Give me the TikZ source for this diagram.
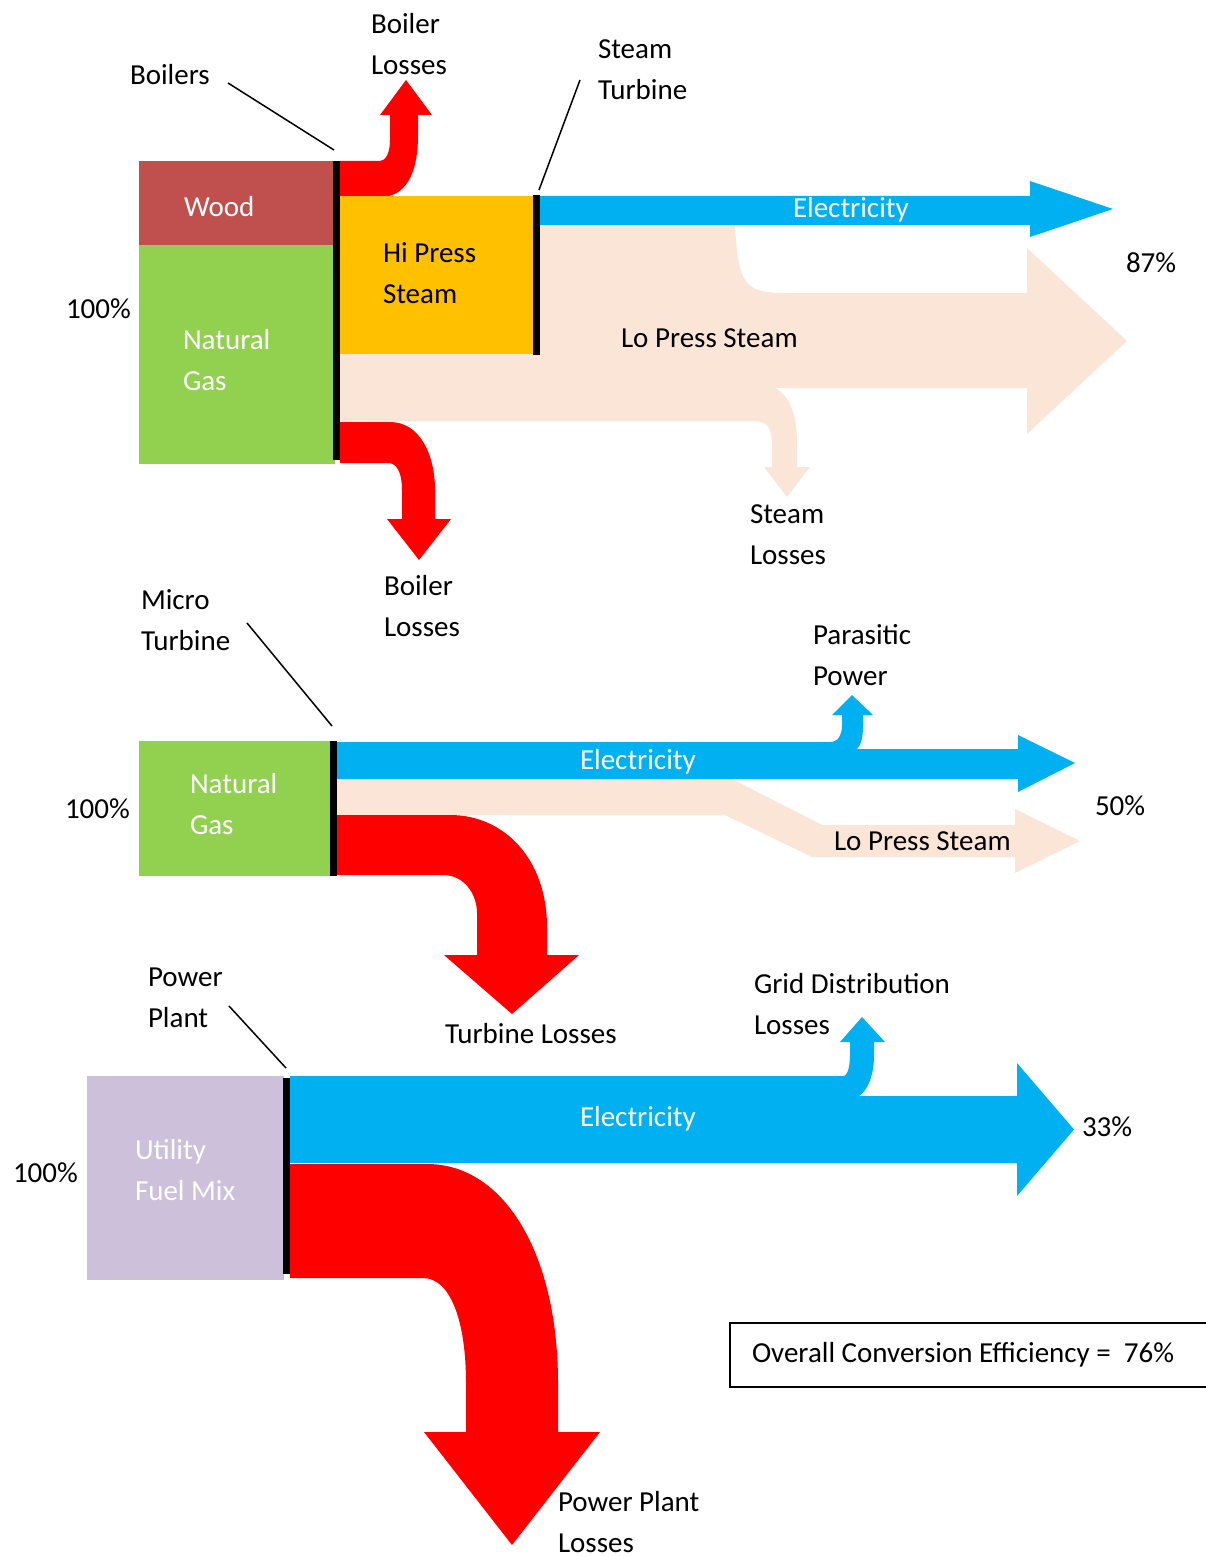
\documentclass[tikz,border=0pt]{standalone}
\usepackage{fontspec}
\setmainfont{Carlito}
\definecolor{woodc}{HTML}{C0504D}
\definecolor{gasc}{HTML}{92D050}
\definecolor{hpc}{HTML}{FFC000}
\definecolor{elc}{HTML}{00B0F0}
\definecolor{lpc}{HTML}{FBE5D6}
\definecolor{lossc}{HTML}{FF0000}
\definecolor{fuelc}{HTML}{CCC0DA}
\begin{document}
\begin{tikzpicture}[x=1pt,y=-1pt,
  txt/.style={inner sep=0pt, outer sep=0pt, anchor=west, align=left, font=\fontsize{29}{41}\selectfont},
  wtxt/.style={txt, text=white},
  blk/.style={inner sep=0pt, outer sep=0pt, anchor=north west},
  bar/.style={line width=7pt, black},
  lead/.style={line width=1.5pt, black}]
\useasboundingbox (0,0) rectangle (1206,1557);

% ================= TOP: Boilers / Steam turbine =================
% low pressure steam
\fill[lpc] (340,225) -- (735,225) .. controls (738,285) and (745,293) .. (785,293)
  -- (1027,293) -- (1027,248) -- (1127,341) -- (1027,434) -- (1027,388) -- (775,388)
  .. controls (793,398) and (797,420) .. (797,445) -- (797,467) -- (810,467) -- (787,497)
  -- (764,467) -- (772,467) -- (772,445) .. controls (772,430) and (768,421) .. (755,421)
  -- (340,421) -- cycle;
% electricity
\fill[elc] (540,196) -- (1030,196) -- (1030,181) -- (1113,209) -- (1030,237) -- (1030,225) -- (540,225) -- cycle;
% boiler losses (up)
\fill[lossc] (340,161) -- (380,161) .. controls (386,161) and (390,152) .. (390,140) -- (390,115)
  -- (380,115) -- (406,80) -- (432,115) -- (418,115) -- (418,135)
  .. controls (418,175) and (405,197) .. (380,197) -- (340,197) -- cycle;
% boiler losses (down)
\fill[lossc] (340,422) -- (390,422) .. controls (420,422) and (435,455) .. (435,490) -- (435,519)
  -- (451,519) -- (419,560) -- (387,519) -- (402,519) -- (402,490)
  .. controls (402,475) and (398,463) .. (388,463) -- (340,463) -- cycle;
% boxes
\node[blk, fill=woodc, minimum width=196pt, minimum height=84pt] (wood) at (139,161) {};
\node[blk, fill=gasc, minimum width=196pt, minimum height=219pt] (gas1) at (139,245) {};
\node[blk, fill=hpc, minimum width=194pt, minimum height=158pt] (hps) at (340,196) {};
\coordinate (boilbarT) at (336.5,161);
\coordinate (boilbarB) at (336.5,460);
\draw[bar] (boilbarT) -- (boilbarB);
\coordinate (turbbarT) at (536.5,195);
\coordinate (turbbarB) at (536.5,355);
\draw[bar] (turbbarT) -- (turbbarB);
% labels
\node[txt] (blossup) at (371,44.5) {Boiler\\Losses};
\node[txt] (boilers) at (130,75) {Boilers};
\node[txt] (sturb) at (598,69.5) {Steam\\Turbine};
\node[wtxt] (woodt) at (184,207) {Wood};
\node[txt] (hpst) at (383,273.5) {Hi Press\\Steam};
\node[wtxt] (elt1) at (793,210) {Electricity};
\node[txt] (p87) at (1126,263) {87\%};
\node[txt] (p100a) at (66,309) {100\%};
\node[wtxt] (gast1) at (183,360) {Natural\\Gas};
\node[txt] (lpst1) at (621,338) {Lo Press Steam};
\node[txt] (sloss) at (750,534.5) {Steam\\Losses};
\node[txt] (blossdn) at (384,606.5) {Boiler\\Losses};
\coordinate (boilersEnd) at (228,83);
\coordinate (boilersTip) at (334,150);
\draw[lead] (boilersEnd) -- (boilersTip);
\coordinate (sturbEnd) at (580,80);
\coordinate (sturbTip) at (539,190);
\draw[lead] (sturbEnd) -- (sturbTip);

% ================= MIDDLE: Micro turbine =================
\fill[lpc] (337,779) -- (732,779) -- (822,825) -- (1015,825) -- (1015,809) -- (1080,841)
  -- (1015,873) -- (1015,857) -- (812,857) -- (725,815) -- (337,815) -- cycle;
\fill[elc] (337,742) -- (830,742) .. controls (838,742) and (842,735) .. (842,725) -- (842,715)
  -- (832,715) -- (852,695) -- (873,715) -- (863,715) -- (863,725)
  .. controls (863,738) and (861,745) .. (857,749) -- (1018,749) -- (1018,735) -- (1075,763)
  -- (1018,792) -- (1018,779) -- (337,779) -- cycle;
\fill[lossc] (337,815) -- (450,815) .. controls (505,815) and (547,860) .. (547,927) -- (547,955)
  -- (579,955) -- (512,1014) -- (444,955) -- (477,955) -- (477,913)
  .. controls (477,895) and (465,875) .. (443,875) -- (337,875) -- cycle;
\node[blk, fill=gasc, minimum width=193pt, minimum height=135pt] (gas2) at (139,741) {};
\coordinate (mtbarT) at (333,741);
\coordinate (mtbarB) at (333,876);
\draw[bar] (mtbarT) -- (mtbarB);
\node[txt] (microt) at (141,620.5) {Micro\\Turbine};
\node[txt] (parap) at (813,655.5) {Parasitic\\Power};
\node[wtxt] (elt2) at (580,762) {Electricity};
\node[txt] (p50) at (1095,806) {50\%};
\node[txt] (p100b) at (65,809) {100\%};
\node[wtxt] (gast2) at (190,804.5) {Natural\\Gas};
\node[txt] (lpst2) at (834,841) {Lo Press Steam};
\node[txt] (tloss) at (445,1034) {Turbine Losses};
\coordinate (microEnd) at (247,623);
\coordinate (microTip) at (332,726);
\draw[lead] (microEnd) -- (microTip);

% ================= BOTTOM: Power plant =================
\fill[elc] (290,1076) -- (843,1076) .. controls (848,1076) and (850,1065) .. (850,1055) -- (850,1042)
  -- (840,1042) -- (862,1017) -- (885,1042) -- (874,1042) -- (874,1055)
  .. controls (874,1075) and (868,1090) .. (859,1096) -- (1017,1096) -- (1017,1063) -- (1074,1129.5)
  -- (1017,1196) -- (1017,1163) -- (290,1163) -- cycle;
\fill[lossc] (290,1164) -- (427,1164) .. controls (505,1164) and (558,1255) .. (558,1383) -- (558,1432)
  -- (600,1432) -- (512,1545) -- (424,1432) -- (466,1432) -- (466,1383)
  .. controls (466,1320) and (450,1278) .. (423,1278) -- (290,1278) -- cycle;
\node[blk, fill=fuelc, minimum width=197pt, minimum height=204pt] (fuel) at (87,1076) {};
\coordinate (ppbarT) at (286,1078);
\coordinate (ppbarB) at (286,1274);
\draw[bar] (ppbarT) -- (ppbarB);
\node[txt] (pplant) at (148,997.5) {Power\\Plant};
\node[txt] (gridl) at (754,1004) {Grid Distribution\\Losses};
\node[wtxt] (elt3) at (580,1119) {Electricity};
\node[txt] (p33) at (1082,1127) {33\%};
\node[txt] (p100c) at (13,1173) {100\%};
\node[wtxt] (fuelt) at (135,1170) {Utility\\Fuel Mix};
\node[txt] (pploss) at (558,1522) {Power Plant\\Losses};
\coordinate (ppEnd) at (229,1006);
\coordinate (ppTip) at (286,1068);
\draw[lead] (ppEnd) -- (ppTip);

% efficiency box
\node[blk, draw, line width=1.5pt, minimum width=480pt, minimum height=64pt] (effbox) at (730,1323) {};
\node[txt] (eff) at (752,1355) {Overall Conversion Efficiency =\ \ 76\%};
\end{tikzpicture}
\end{document}
